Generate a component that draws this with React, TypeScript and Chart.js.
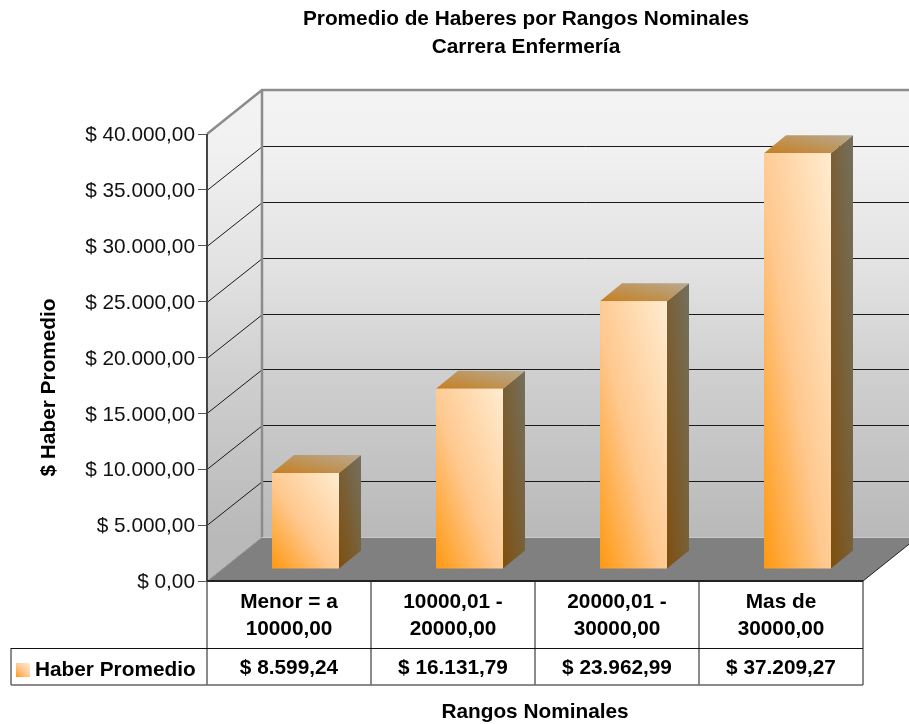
import React, { useEffect, useRef } from "react";
import { Chart, registerables } from "chart.js";

Chart.register(...registerables);

const titleLines = ["Promedio de Haberes por Rangos Nominales", "Carrera Enfermería"];
const categories = [["Menor = a", "10000,00"], ["10000,01 -", "20000,00"], ["20000,01 -", "30000,00"], ["Mas de", "30000,00"]];
const values = [8599.24, 16131.79, 23962.99, 37209.27];
const seriesName = "Haber Promedio";
const yAxisTitle = "$ Haber Promedio";
const xAxisTitle = "Rangos Nominales";

const FONT = "'Liberation Sans', Arial, sans-serif";
const SIZE = 20.8;
const WALL_DX = 55;
const WALL_DY = 44;
const BAR_DX = 16.5;
const BAR_DY = 12;
const SIDE_DX = 22;
const SIDE_DY = 18;
const BAR_FRACTION = 67 / 164;

function money(v: number): string {
  const [i, d] = v.toFixed(2).split(".");
  return "$ " + i.replace(/\B(?=(\d{3})+(?!\d))/g, ".") + "," + d;
}

function boxGradient(c: CanvasRenderingContext2D, x0: number, yTop: number, x1: number, yBot: number, stops: [number, string][]) {
  const w = x1 - x0;
  const h = yBot - yTop;
  const k = (2 * w * h) / (w * w + h * h);
  const g = c.createLinearGradient(x0, yBot, x0 + h * k, yBot - w * k);
  stops.forEach(([p, col]) => g.addColorStop(p, col));
  return g;
}

const frontStops: [number, string][] = [[0, "#ff9810"], [0.45, "#ffc88e"], [1, "#ffecd0"]];
const sideStops: [number, string][] = [[0, "#7f4f0e"], [1, "#73705f"]];
const topStops: [number, string][] = [[0, "#c67f20"], [1, "#b8a991"]];

const scene3d = {
  id: "scene3d",
  beforeDraw(chart: any) {
    const c: CanvasRenderingContext2D = chart.ctx;
    const { left, right, top, bottom } = chart.chartArea;
    const W = chart.width;
    const backTop = top - WALL_DY;
    const backBot = bottom - WALL_DY;
    const bx = left + WALL_DX;
    c.save();
    const wall = c.createLinearGradient(0, backTop, 0, backBot);
    wall.addColorStop(0, "#f3f3f3");
    wall.addColorStop(0.13, "#f1f1f1");
    wall.addColorStop(0.4, "#e2e2e2");
    wall.addColorStop(0.64, "#cfcfcf");
    wall.addColorStop(1, "#b9b9b9");
    c.fillStyle = wall;
    c.fillRect(bx, backTop, W - bx, backBot - backTop);
    c.beginPath();
    c.moveTo(left, top);
    c.lineTo(bx, backTop);
    c.lineTo(bx, backBot);
    c.lineTo(left, bottom);
    c.closePath();
    c.fill();
    c.fillStyle = "#808080";
    c.beginPath();
    c.moveTo(left, bottom);
    c.lineTo(bx, backBot);
    c.lineTo(right + WALL_DX, backBot);
    c.lineTo(right, bottom);
    c.closePath();
    c.fill();
    const y = chart.scales.y;
    c.lineWidth = 1;
    c.strokeStyle = "#1a1a1a";
    y.ticks.forEach((t: any) => {
      if (t.value === 0 || t.value === 40000) return;
      const p = Math.round(y.getPixelForValue(t.value));
      c.beginPath();
      c.moveTo(left, p + 0.5);
      c.lineTo(bx + 0.5, p - WALL_DY + 0.5);
      c.lineTo(W, p - WALL_DY + 0.5);
      c.stroke();
    });
    c.strokeStyle = "#c9c9c9";
    c.beginPath();
    c.moveTo(bx, backBot + 0.5);
    c.lineTo(right + WALL_DX, backBot + 0.5);
    c.stroke();
    c.strokeStyle = "#8c8c8c";
    c.lineWidth = 2.5;
    c.beginPath();
    c.moveTo(left, top);
    c.lineTo(bx, backTop);
    c.lineTo(W, backTop);
    c.moveTo(bx, backTop);
    c.lineTo(bx, backBot);
    c.stroke();
    c.strokeStyle = "#a8a8a8";
    c.lineWidth = 1;
    c.beginPath();
    c.moveTo(left, bottom);
    c.lineTo(bx, backBot);
    c.stroke();
    c.strokeStyle = "#222";
    c.beginPath();
    c.moveTo(right, bottom);
    c.lineTo(right + WALL_DX, backBot);
    c.stroke();
    c.restore();
  },
  beforeDatasetsDraw(chart: any) {
    const c: CanvasRenderingContext2D = chart.ctx;
    c.save();
    c.translate(BAR_DX, -BAR_DY);
    chart.getDatasetMeta(0).data.forEach((el: any) => {
      const x0 = el.x - el.width / 2;
      const x1 = el.x + el.width / 2;
      const yT = el.y;
      const yB = el.base;
      c.fillStyle = boxGradient(c, x1, yT - SIDE_DY, x1 + SIDE_DX, yB, sideStops);
      c.beginPath();
      c.moveTo(x1, yT);
      c.lineTo(x1 + SIDE_DX, yT - SIDE_DY);
      c.lineTo(x1 + SIDE_DX, yB - SIDE_DY);
      c.lineTo(x1, yB);
      c.closePath();
      c.fill();
      c.fillStyle = boxGradient(c, x0, yT - SIDE_DY, x1 + SIDE_DX, yT, topStops);
      c.beginPath();
      c.moveTo(x0, yT);
      c.lineTo(x0 + SIDE_DX, yT - SIDE_DY);
      c.lineTo(x1 + SIDE_DX, yT - SIDE_DY);
      c.lineTo(x1, yT);
      c.closePath();
      c.fill();
    });
  },
  afterDatasetsDraw(chart: any) {
    chart.ctx.restore();
  },
  afterLayout(chart: any) {
    if (chart.titleBlock) {
      chart.titleBlock.left = 0;
      chart.titleBlock.right = 1052;
    }
  },
  afterDraw(chart: any) {
    const c: CanvasRenderingContext2D = chart.ctx;
    const { left, right, top, bottom } = chart.chartArea;
    const x = chart.scales.x;
    const rowTop = 648;
    const rowBot = 685;
    const tableLeft = 11;
    const cell = (right - left) / categories.length;
    c.save();
    c.strokeStyle = "#666";
    c.lineWidth = 1.5;
    c.beginPath();
    for (let i = 0; i <= categories.length; i++) {
      const px = Math.round(left + i * cell);
      c.moveTo(px, bottom);
      c.lineTo(px, rowBot);
    }
    c.moveTo(tableLeft, rowTop);
    c.lineTo(tableLeft, rowBot);
    c.moveTo(tableLeft, rowBot);
    c.lineTo(right, rowBot);
    c.stroke();
    c.strokeStyle = "#111";
    c.lineWidth = 1;
    c.beginPath();
    c.moveTo(tableLeft, rowTop + 0.5);
    c.lineTo(right, rowTop + 0.5);
    c.stroke();
    c.strokeStyle = "#444";
    c.lineWidth = 2;
    c.beginPath();
    c.moveTo(left, top);
    c.lineTo(left, bottom);
    c.stroke();
    c.strokeStyle = "#222";
    c.lineWidth = 2;
    c.beginPath();
    c.moveTo(left, bottom);
    c.lineTo(right, bottom);
    c.stroke();

    c.fillStyle = "#000";
    c.font = `bold ${SIZE}px ${FONT}`;
    c.textAlign = "center";
    c.textBaseline = "middle";
    values.forEach((v, i) => c.fillText(money(v), x.getPixelForValue(i), 668));

    c.textAlign = "left";
    c.fillText(seriesName, 35, 670.5);
    c.fillStyle = boxGradient(c, 16, 663, 30, 677, frontStops);
    c.fillRect(16, 663, 14, 14);

    c.fillStyle = "#000";
    c.translate(49, 387.5);
    c.rotate(-Math.PI / 2);
    c.textAlign = "center";
    c.fillText(yAxisTitle, 0, 0);
    c.restore();
  },
};

export default function App() {
  const ref = useRef<HTMLCanvasElement>(null);
  useEffect(() => {
    const chart = new Chart(ref.current as HTMLCanvasElement, {
      type: "bar",
      data: {
        labels: categories as any,
        datasets: [
          {
            label: seriesName,
            data: values,
            clip: false as any,
            barPercentage: BAR_FRACTION,
            categoryPercentage: 1,
            borderWidth: 0,
            backgroundColor: (ctx: any) => {
              const { chart: ch, dataIndex, raw } = ctx;
              if (dataIndex === undefined || !ch.chartArea || !ch.scales.x) return "#ffc78c";
              const half = ((ch.chartArea.right - ch.chartArea.left) / categories.length) * BAR_FRACTION * 0.5;
              const cx = ch.scales.x.getPixelForValue(dataIndex);
              return boxGradient(ch.ctx, cx - half, ch.scales.y.getPixelForValue(raw), cx + half, ch.scales.y.getPixelForValue(0), frontStops);
            },
          },
        ],
      },
      options: {
        animation: false,
        responsive: false,
        layout: { padding: { left: 0, right: 46, top: 0, bottom: 0 } },
        plugins: {
          legend: { display: false },
          tooltip: { enabled: false },
          title: {
            display: true,
            text: titleLines,
            color: "#000",
            font: { family: FONT, size: SIZE, weight: "bold", lineHeight: "28px" as any },
            padding: { top: 5, bottom: 73 },
          },
        },
        scales: {
          x: {
            afterFit: (s: any) => {
              s.height = 143;
            },
            grid: { display: false },
            border: { display: false },
            ticks: {
              color: "#000",
              maxRotation: 0,
              autoSkip: false,
              padding: 0,
              font: { family: FONT, size: SIZE, weight: "bold", lineHeight: "27px" as any },
            },
            title: {
              display: true,
              text: xAxisTitle,
              color: "#000",
              padding: { top: 0, bottom: -1 },
              font: { family: FONT, size: SIZE, weight: "bold" },
            },
          },
          y: {
            min: 0,
            max: 40000,
            afterFit: (s: any) => {
              s.width = 207;
            },
            border: { display: false },
            grid: { drawOnChartArea: false, drawTicks: true, tickLength: 9, color: "#555", lineWidth: 1 },
            ticks: {
              stepSize: 5000,
              color: "#111",
              padding: 3,
              labelOffset: 1.5,
              font: { family: FONT, size: SIZE },
              callback: (v: any) => money(Number(v)),
            },
          },
        },
      },
      plugins: [scene3d],
    } as any);
    return () => chart.destroy();
  }, []);
  return (
    <canvas
      ref={ref}
      width={909}
      height={724}
      style={{ position: "absolute", left: 0, top: 0, display: "block", width: 909, height: 724 }}
    />
  );
}
